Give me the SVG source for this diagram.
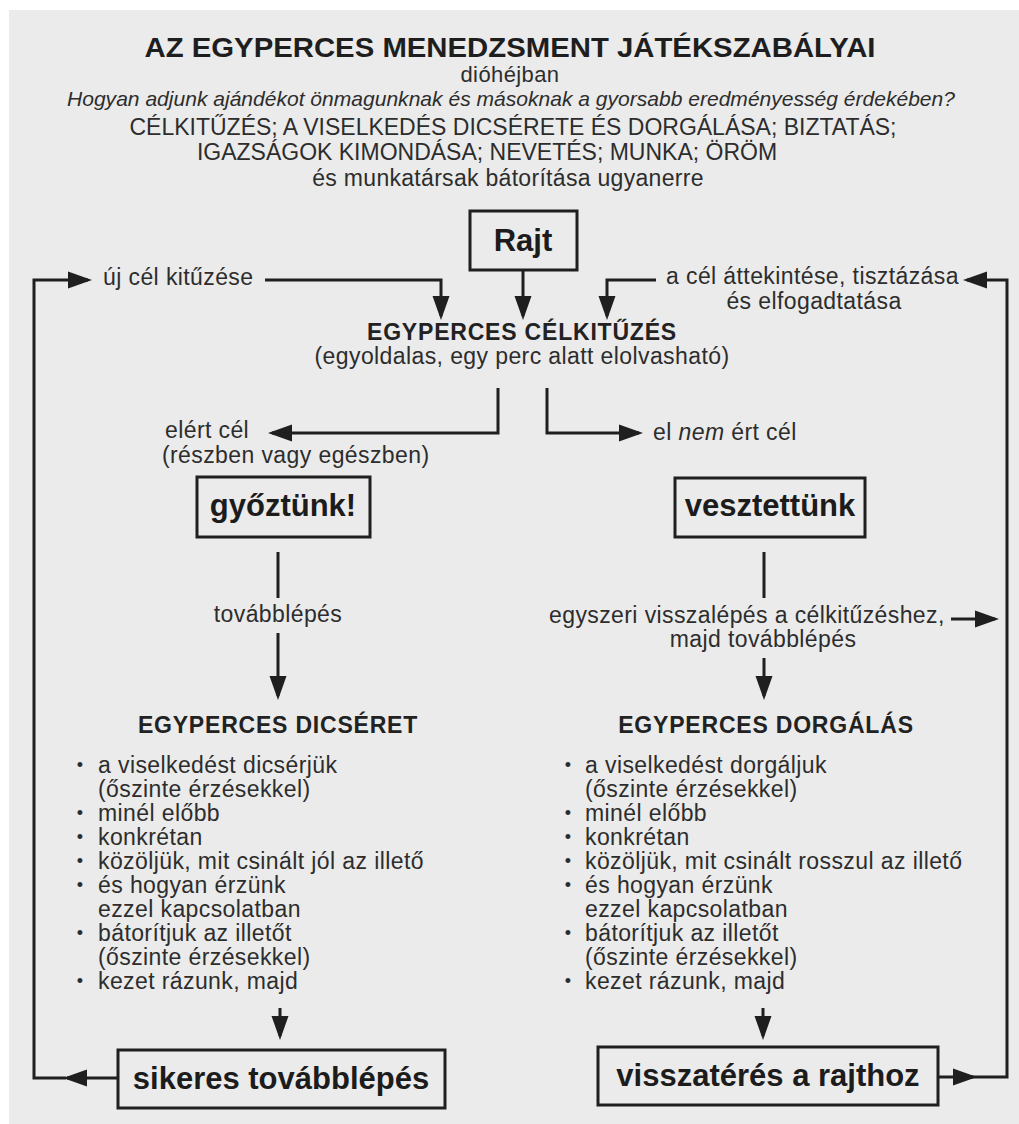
<svg xmlns="http://www.w3.org/2000/svg" width="1019" height="1124" viewBox="0 0 1019 1124">
<style>
.t{font-family:"Liberation Sans",Arial,Helvetica,sans-serif;fill:#2d2d2d;font-size:23px;letter-spacing:0.4px}
.b{font-weight:bold;fill:#1e1e1e}
.h{font-weight:bold;fill:#222;letter-spacing:0.8px}
.bx{font-weight:bold;fill:#1c1c1c;font-size:31px;letter-spacing:0}
.m{text-anchor:middle}
.box{fill:none;stroke:#1f1f1f;stroke-width:3}
.ln{fill:none;stroke:#1f1f1f;stroke-width:3}
.dot{font-size:18px}
</style>
<defs>
<marker id="ah" markerUnits="userSpaceOnUse" markerWidth="24" markerHeight="20" viewBox="0 0 24 20" refX="20" refY="10" orient="auto">
<path d="M0,1.5 L24,10 L0,18.5 Z" fill="#1f1f1f"/>
</marker>
</defs>
<rect x="0" y="0" width="1019" height="1124" fill="#ffffff"/>
<rect x="9" y="10" width="1010" height="1114" fill="#ebebeb"/>

<g id="header">
<text class="t b m" x="510" y="57" style="font-size:28px;letter-spacing:0" textLength="731" lengthAdjust="spacingAndGlyphs">AZ EGYPERCES MENEDZSMENT JÁTÉKSZABÁLYAI</text>
<text class="t m" x="510" y="82" style="font-size:22px">dióhéjban</text>
<text class="t m" x="511" y="106" style="font-size:21px;font-style:italic;letter-spacing:0" textLength="888" lengthAdjust="spacingAndGlyphs">Hogyan adjunk ajándékot önmagunknak és másoknak a gyorsabb eredményesség érdekében?</text>
<text class="t m" x="513" y="135" textLength="767" lengthAdjust="spacingAndGlyphs" style="letter-spacing:0">CÉLKITŰZÉS; A VISELKEDÉS DICSÉRETE ÉS DORGÁLÁSA; BIZTATÁS;</text>
<text class="t m" x="487" y="160" style="letter-spacing:0">IGAZSÁGOK KIMONDÁSA; NEVETÉS; MUNKA; ÖRÖM</text>
<text class="t m" x="508" y="186" style="letter-spacing:0.3px">és munkatársak bátorítása ugyanerre</text>
</g>

<g id="node-rajt">
<rect class="box" x="470" y="211" width="107" height="59"/>
<text class="t bx m" x="523" y="251">Rajt</text>
</g>

<g id="label-uj-cel">
<text class="t" x="103" y="285">új cél kitűzése</text>
</g>

<g id="label-a-cel">
<text class="t" x="666" y="284">a cél áttekintése, tisztázása</text>
<text class="t m" x="814" y="309">és elfogadtatása</text>
</g>

<g id="node-celkituzes">
<text class="t h m" x="522" y="340">EGYPERCES CÉLKITŰZÉS</text>
<text class="t m" x="522" y="364">(egyoldalas, egy perc alatt elolvasható)</text>
</g>

<g id="label-elert">
<text class="t" x="165" y="438">elért cél</text>
<text class="t" x="162" y="463">(részben vagy egészben)</text>
</g>

<g id="label-el-nem-ert">
<text class="t" x="653" y="440">el <tspan font-style="italic">nem</tspan> ért cél</text>
</g>

<g id="node-gyoztunk">
<rect class="box" x="197" y="477" width="173" height="60"/>
<text class="t bx m" x="283" y="516">győztünk!</text>
</g>

<g id="node-vesztettunk">
<rect class="box" x="675" y="478" width="190" height="59"/>
<text class="t bx m" x="770" y="516">vesztettünk</text>
</g>

<g id="label-tovabblepes">
<text class="t m" x="278" y="622">továbblépés</text>
</g>

<g id="label-egyszeri">
<text class="t" x="549" y="623">egyszeri visszalépés a célkitűzéshez,</text>
<text class="t m" x="763" y="647">majd továbblépés</text>
</g>

<g id="node-dicseret">
<text class="t h m" x="278" y="733">EGYPERCES DICSÉRET</text>
<text class="t dot m" x="80" y="771">•</text>
<text class="t" x="98" y="773">a viselkedést dicsérjük</text>
<text class="t" x="98" y="797">(őszinte érzésekkel)</text>
<text class="t dot m" x="80" y="819">•</text>
<text class="t" x="98" y="821">minél előbb</text>
<text class="t dot m" x="80" y="843">•</text>
<text class="t" x="98" y="845">konkrétan</text>
<text class="t dot m" x="80" y="867">•</text>
<text class="t" x="98" y="869">közöljük, mit csinált jól az illető</text>
<text class="t dot m" x="80" y="891">•</text>
<text class="t" x="98" y="893">és hogyan érzünk</text>
<text class="t" x="98" y="917">ezzel kapcsolatban</text>
<text class="t dot m" x="80" y="939">•</text>
<text class="t" x="98" y="941">bátorítjuk az illetőt</text>
<text class="t" x="98" y="965">(őszinte érzésekkel)</text>
<text class="t dot m" x="80" y="987">•</text>
<text class="t" x="98" y="989">kezet rázunk, majd</text>
</g>

<g id="node-dorgalas">
<text class="t h m" x="766" y="733">EGYPERCES DORGÁLÁS</text>
<text class="t dot m" x="568" y="771">•</text>
<text class="t" x="585" y="773">a viselkedést dorgáljuk</text>
<text class="t" x="585" y="797">(őszinte érzésekkel)</text>
<text class="t dot m" x="568" y="819">•</text>
<text class="t" x="585" y="821">minél előbb</text>
<text class="t dot m" x="568" y="843">•</text>
<text class="t" x="585" y="845">konkrétan</text>
<text class="t dot m" x="568" y="867">•</text>
<text class="t" x="585" y="869">közöljük, mit csinált rosszul az illető</text>
<text class="t dot m" x="568" y="891">•</text>
<text class="t" x="585" y="893">és hogyan érzünk</text>
<text class="t" x="585" y="917">ezzel kapcsolatban</text>
<text class="t dot m" x="568" y="939">•</text>
<text class="t" x="585" y="941">bátorítjuk az illetőt</text>
<text class="t" x="585" y="965">(őszinte érzésekkel)</text>
<text class="t dot m" x="568" y="987">•</text>
<text class="t" x="585" y="989">kezet rázunk, majd</text>
</g>

<g id="node-sikeres">
<rect class="box" x="118" y="1050" width="327" height="58"/>
<text class="t bx m" x="281" y="1089">sikeres továbblépés</text>
</g>

<g id="node-visszateres">
<rect class="box" x="598" y="1047" width="340" height="58"/>
<text class="t bx m" x="768" y="1086">visszatérés a rajthoz</text>
</g>

<g id="connectors">
<path class="ln" d="M523,271 V316" marker-end="url(#ah)"/>
<path class="ln" d="M265,280 H441 V316" marker-end="url(#ah)"/>
<path class="ln" d="M656,280 H607 V316" marker-end="url(#ah)"/>
<path class="ln" d="M118,1078 H67" marker-end="url(#ah)"/>
<path class="ln" d="M66,1078 H34 V280 H88" marker-end="url(#ah)"/>
<path class="ln" d="M938,1077 H973" marker-end="url(#ah)"/>
<path class="ln" d="M972,1077 H1007 V280 H967" marker-end="url(#ah)"/>
<path class="ln" d="M951,619 H995" marker-end="url(#ah)"/>
<path class="ln" d="M498,388 V433 H272" marker-end="url(#ah)"/>
<path class="ln" d="M547,388 V433 H639" marker-end="url(#ah)"/>
<path class="ln" d="M278,552 V598"/>
<path class="ln" d="M278,633 V696" marker-end="url(#ah)"/>
<path class="ln" d="M764,552 V598"/>
<path class="ln" d="M764,658 V696" marker-end="url(#ah)"/>
<path class="ln" d="M280,1008 V1036" marker-end="url(#ah)"/>
<path class="ln" d="M763,1008 V1036" marker-end="url(#ah)"/>
</g>
</svg>
